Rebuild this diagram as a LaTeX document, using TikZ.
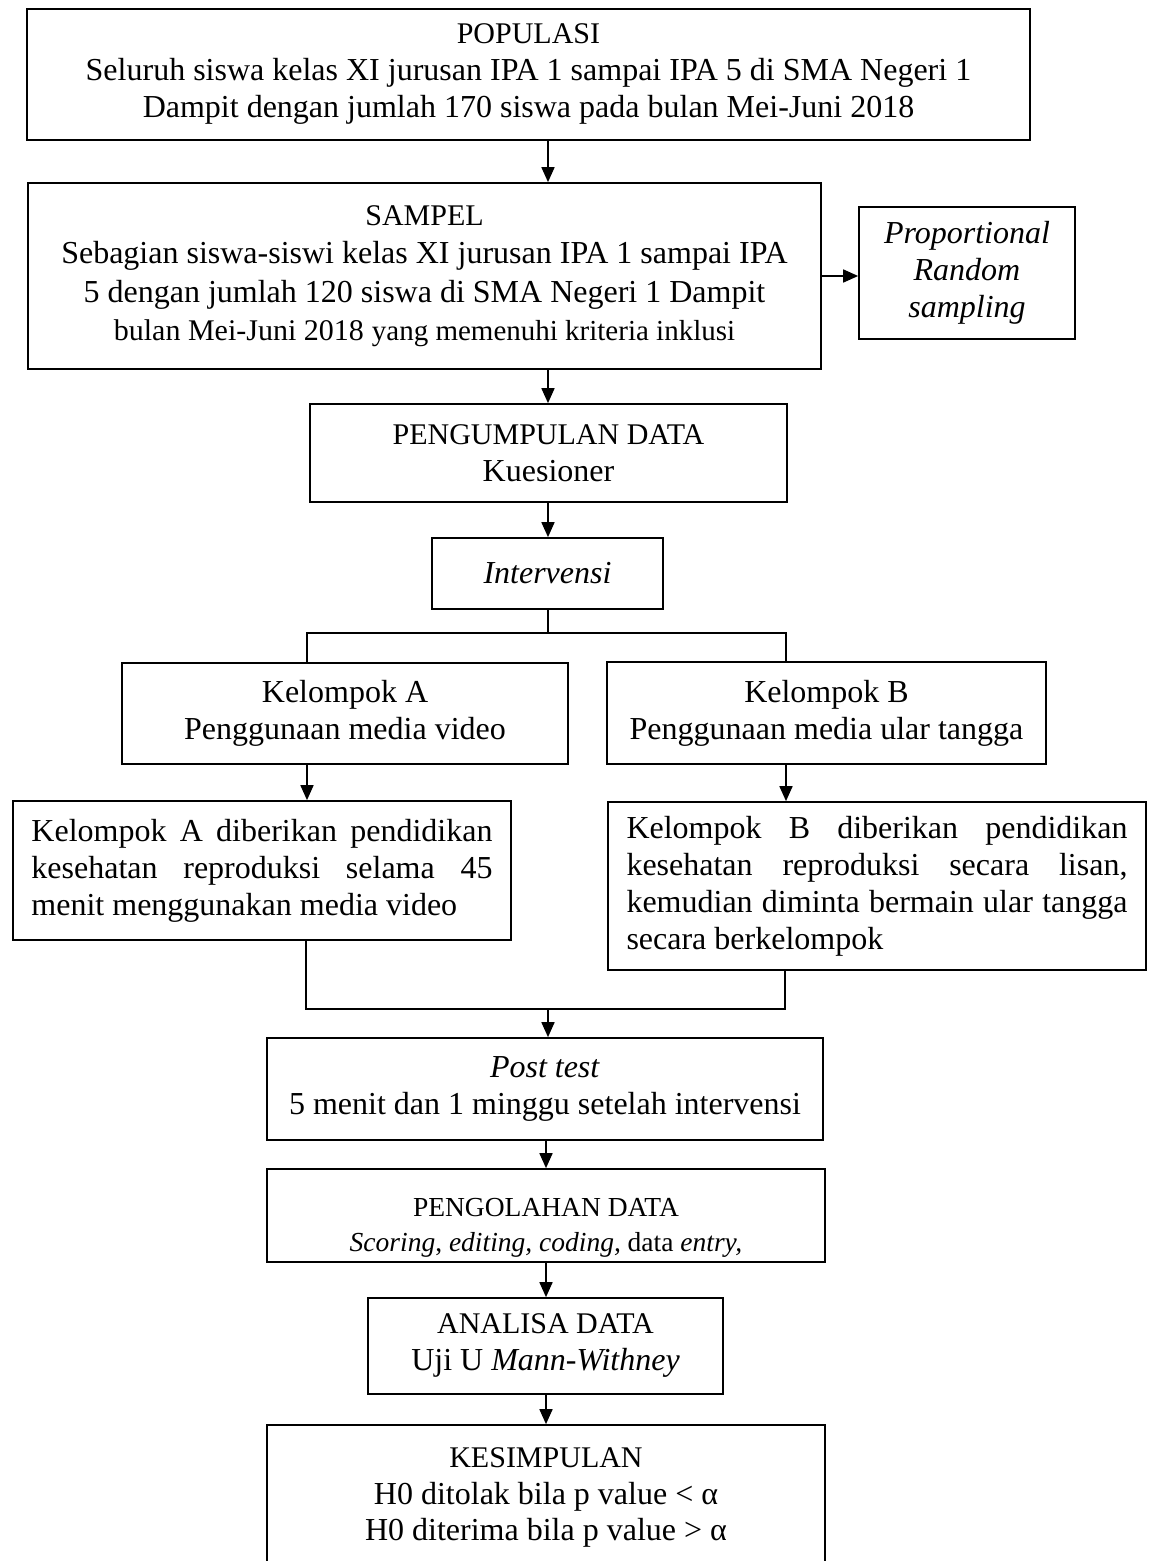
\documentclass[tikz,border=0pt]{standalone}
\usepackage{fontspec}
\setmainfont{Liberation Serif}
\usetikzlibrary{arrows.meta}
\newcommand\hdtext[1]{{\fontsize{30bp}{\baselineskip}\selectfont #1}}
\begin{document}
\begin{tikzpicture}[x=1bp,y=-1bp,
  box/.style={draw,line width=1.7bp,inner sep=0pt,align=center,
    font=\fontsize{32bp}{37bp}\selectfont},
  arr/.style={line width=1.7bp,-{Triangle[length=15bp,width=13bp]}},
  ln/.style={line width=1.7bp}]
\useasboundingbox (0,0) rectangle (1151,1561);

\node[box,minimum width=1003bp,minimum height=131bp] (pop) at (528.5,74.5)
  {\hdtext{POPULASI}\\Seluruh siswa kelas XI jurusan IPA 1 sampai IPA 5 di SMA Negeri 1\\Dampit dengan jumlah 170 siswa pada bulan Mei-Juni 2018};

\node[box,minimum width=793bp,minimum height=186bp,font=\fontsize{32bp}{38.5bp}\selectfont] (sam) at (424.5,276)
  {\hdtext{SAMPEL}\\Sebagian siswa-siswi kelas XI jurusan IPA 1 sampai IPA\\5 dengan jumlah 120 siswa di SMA Negeri 1 Dampit\\{\fontsize{30bp}{\baselineskip}\selectfont bulan Mei-Juni 2018} {\fontsize{29bp}{\baselineskip}\selectfont yang memenuhi kriteria inklusi}};

\node[box,minimum width=216bp,minimum height=132bp,font=\fontsize{32bp}{37bp}\selectfont\itshape] (prop) at (967,273)
  {Proportional\\Random\\sampling};

\node[box,minimum width=477bp,minimum height=98bp] (peng) at (548.5,453)
  {\hdtext{PENGUMPULAN DATA}\\Kuesioner};

\node[box,minimum width=231bp,minimum height=71bp] (int) at (547.5,573.5)
  {\textit{Intervensi}};

\node[box,minimum width=446bp,minimum height=101bp] (kA) at (345,713.5)
  {Kelompok A\\Penggunaan media video};

\node[box,minimum width=439bp,minimum height=102bp] (kB) at (826.5,713)
  {Kelompok B\\Penggunaan media ular tangga};

\node[box,minimum width=498bp,minimum height=139bp,text width=461bp,align=justify] (dA) at (262,870.5)
  {\hbadness=10000 Kelompok A diberikan pendidikan\linebreak kesehatan reproduksi selama 45\linebreak menit menggunakan media video};

\node[box,minimum width=538bp,minimum height=168bp,text width=501bp,align=justify] (dB) at (877,886)
  {\hbadness=10000 Kelompok B diberikan pendidikan\linebreak kesehatan reproduksi secara lisan,\linebreak kemudian diminta bermain ular tangga\linebreak secara berkelompok};

\node[box,minimum width=556bp,minimum height=102bp] (post) at (545,1089)
  {\textit{Post test}\\5 menit dan 1 minggu setelah intervensi};

\node[box,minimum width=558bp,minimum height=93bp,font=\fontsize{27.5bp}{35bp}\selectfont] (olah) at (546,1215.5)
  {\rule{0pt}{42bp}PENGOLAHAN DATA\\\textit{Scoring}, \textit{editing, coding,} data \textit{entry,}};

\node[box,minimum width=355bp,minimum height=96bp] (ana) at (545.5,1346)
  {\hdtext{ANALISA DATA}\\Uji U \textit{Mann-Withney}};

\node[box,minimum width=558bp,minimum height=145bp,font=\fontsize{32bp}{36.5bp}\selectfont] (kes) at (546,1497.5)
  {\hdtext{KESIMPULAN}\\H0 ditolak bila p value < α\\H0 diterima bila p value > α};

% connectors
\coordinate (cx) at (548,0);
\coordinate (cy) at (546,0);
\coordinate (bl) at (307,633);
\coordinate (br) at (786,633);
\coordinate (ml) at (306,1009);
\coordinate (mr) at (785,1009);

\draw[arr] (cx |- pop.south) -- (cx |- sam.north);
\draw[arr] (sam.east) -- (sam.east -| prop.west);
\draw[arr] (cx |- sam.south) -- (cx |- peng.north);
\draw[arr] (cx |- peng.south) -- (cx |- int.north);
\draw[ln] (cx |- int.south) -- (cx |- bl);
\draw[ln] (bl |- kA.north) -- (bl) -- (br) -- (br |- kB.north);
\draw[arr] (bl |- kA.south) -- (bl |- dA.north);
\draw[arr] (br |- kB.south) -- (br |- dB.north);
\draw[ln] (ml |- dA.south) -- (ml) -- (mr) -- (mr |- dB.south);
\draw[arr] (cx |- ml) -- (cx |- post.north);
\draw[arr] (cy |- post.south) -- (cy |- olah.north);
\draw[arr] (cy |- olah.south) -- (cy |- ana.north);
\draw[arr] (cy |- ana.south) -- (cy |- kes.north);
\end{tikzpicture}
\end{document}
